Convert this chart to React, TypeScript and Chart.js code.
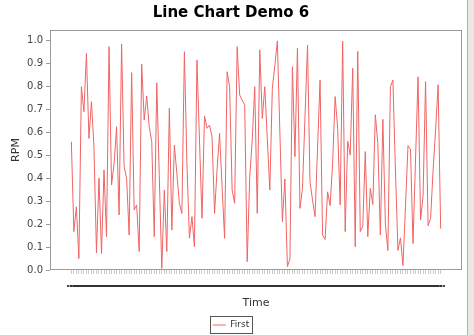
import { useEffect, useRef } from 'react';
import { Chart, registerables } from 'chart.js';

Chart.register(...registerables);

const TITLE = 'Line Chart Demo 6';
const SERIES_NAME = 'First';
const X_TITLE = 'Time';
const Y_TITLE = 'RPM';
const TRUNCATED_LABEL = '…';
const Y_TICKS = [0, 0.1, 0.2, 0.3, 0.4, 0.5, 0.6, 0.7, 0.8, 0.9, 1.0];

const VALUES = [
  0.558, 0.167, 0.275, 0.05, 0.797, 0.688, 0.942, 0.572, 0.732, 0.536,
  0.075, 0.399, 0.072, 0.435, 0.145, 0.971, 0.37, 0.46, 0.623, 0.239,
  0.983, 0.449, 0.399, 0.152, 0.858, 0.261, 0.283, 0.08, 0.895, 0.652,
  0.757, 0.623, 0.558, 0.145, 0.814, 0.41, 0.007, 0.348, 0.08, 0.703,
  0.174, 0.543, 0.42, 0.29, 0.246, 0.949, 0.464, 0.138, 0.232, 0.101,
  0.913, 0.565, 0.225, 0.67, 0.616, 0.63, 0.58, 0.246, 0.435, 0.594,
  0.362, 0.138, 0.862, 0.797, 0.348, 0.29, 0.971, 0.761, 0.739, 0.717,
  0.036, 0.406, 0.565, 0.797, 0.246, 0.957, 0.659, 0.797, 0.57, 0.348,
  0.79, 0.89, 0.996, 0.6, 0.21, 0.396, 0.015, 0.047, 0.884, 0.493,
  0.964, 0.268, 0.355, 0.665, 0.978, 0.384, 0.304, 0.232, 0.53, 0.826,
  0.152, 0.133, 0.34, 0.28, 0.464, 0.754, 0.617, 0.283, 0.995, 0.167,
  0.56, 0.5, 0.877, 0.101, 0.95, 0.167, 0.19, 0.515, 0.145, 0.355,
  0.285, 0.675, 0.55, 0.152, 0.655, 0.2, 0.085, 0.797, 0.826, 0.435,
  0.085, 0.14, 0.02, 0.275, 0.54, 0.525, 0.115, 0.478, 0.84, 0.217,
  0.32, 0.819, 0.192, 0.225, 0.435, 0.609, 0.806, 0.18,
];

const CATEGORIES = VALUES.map((_, i) => String(i + 1));

const LINE_COLOR = 'rgb(240,100,100)';
const FONT = 'DejaVu Sans';

const framePlugin = {
  id: 'frame',
  afterDatasetsDraw(chart: any) {
    const { ctx, chartArea: a } = chart;
    ctx.save();
    ctx.strokeStyle = '#9a9a9a';
    ctx.lineWidth = 1;
    ctx.strokeRect(
      Math.round(a.left) + 0.5,
      Math.round(a.top) + 0.5,
      Math.round(a.right - a.left) - 1,
      Math.round(a.bottom - a.top) - 1
    );
    ctx.restore();
  },
  afterDraw(chart: any) {
    const boxes = chart.legend && chart.legend.legendHitBoxes;
    if (!boxes || !boxes.length) return;
    const b = boxes[0];
    const { ctx } = chart;
    ctx.save();
    ctx.strokeStyle = '#555';
    ctx.lineWidth = 1;
    ctx.strokeRect(
      Math.round(b.left - 3) + 0.5,
      Math.round(b.top - 4.5) + 0.5,
      Math.round(b.width + 6),
      Math.round(b.height + 9) - 1
    );
    ctx.restore();
  },
};

export default function App() {
  const ref = useRef<HTMLCanvasElement>(null);

  useEffect(() => {
    const canvas = ref.current;
    if (!canvas) return;
    const chart = new Chart(canvas, {
      type: 'line',
      data: {
        datasets: [
          {
            label: SERIES_NAME,
            data: VALUES.map((v, i) => ({ x: i, y: v })),
            borderColor: LINE_COLOR,
            backgroundColor: LINE_COLOR,
            borderWidth: 1,
            pointRadius: 0,
            pointHoverRadius: 0,
            tension: 0,
            fill: false,
          },
        ],
      },
      options: {
        animation: false,
        responsive: false,
        events: [],
        layout: { padding: { left: 0, right: 12, top: 0, bottom: -4.5 } },
        plugins: {
          title: {
            display: true,
            text: TITLE,
            color: '#000',
            font: { family: FONT, size: 15, weight: 'bold' },
            padding: { top: 4, bottom: 8 },
          },
          legend: {
            display: true,
            position: 'bottom',
            labels: {
              usePointStyle: true,
              pointStyle: 'line',
              pointStyleWidth: 13,
              boxHeight: 9,
              padding: 4.5,
              color: '#333',
              font: { family: FONT, size: 9 },
            },
          },
          tooltip: { enabled: false },
        },
        scales: {
          x: {
            type: 'linear',
            min: -8.5,
            max: VALUES.length - 1 + 8.5,
            afterBuildTicks: (s: any) => {
              s.ticks = CATEGORIES.map((_, i) => ({ value: i }));
            },
            afterFit: (s: any) => {
              s.height = 46;
            },
            grid: {
              drawOnChartArea: false,
              drawTicks: true,
              tickLength: 4,
              tickColor: '#cacaca',
              tickWidth: 1,
            },
            border: { display: false },
            ticks: {
              autoSkip: false,
              maxRotation: 0,
              minRotation: 0,
              padding: 4,
              color: '#333',
              font: { family: FONT, size: 10, weight: 'bold' },
              callback: () => TRUNCATED_LABEL,
            },
            title: {
              display: true,
              text: X_TITLE,
              color: '#333',
              font: { family: FONT, size: 11 },
              padding: { top: 0, bottom: 6.4 },
            },
          },
          y: {
            type: 'linear',
            min: 0,
            max: 1.0435,
            afterBuildTicks: (s: any) => {
              s.ticks = Y_TICKS.map((v) => ({ value: v }));
            },
            afterFit: (s: any) => {
              s.width = 50;
            },
            grid: {
              drawOnChartArea: false,
              drawTicks: true,
              tickLength: 4,
              tickColor: '#999',
            },
            border: { display: false },
            ticks: {
              padding: 3,
              color: '#444',
              font: { family: FONT, size: 10 },
              callback: (v: any) => Number(v).toFixed(1),
            },
            title: {
              display: true,
              text: Y_TITLE,
              color: '#333',
              font: { family: FONT, size: 11 },
              padding: { top: 10, bottom: 0 },
            },
          },
        },
      },
      plugins: [framePlugin],
    } as any);
    return () => chart.destroy();
  }, []);

  return (
    <div style={{ position: 'absolute', left: 0, top: 0, width: 474, height: 335, background: '#fff', overflow: 'hidden' }}>
      <canvas ref={ref} width={474} height={335} style={{ display: 'block', width: 474, height: 335 }} />
      <div
        style={{
          position: 'absolute',
          left: 467,
          top: 0,
          width: 7,
          height: 335,
          background: '#ebe8e3',
          borderLeft: '1px solid #b3b0ab',
          boxSizing: 'border-box',
        }}
      />
    </div>
  );
}
